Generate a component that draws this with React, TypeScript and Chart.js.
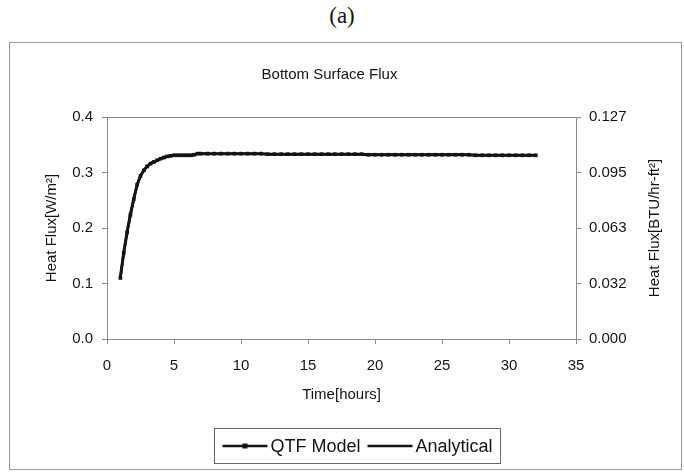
import { useEffect, useRef } from 'react';
import { Chart, registerables } from 'chart.js';

Chart.register(...registerables);

const chartLabel = '(a)';
const chartTitle = 'Bottom Surface Flux';
const xTitle = 'Time[hours]';
const yLeftTitle = 'Heat Flux[W/m\u00B2]';
const yRightTitle = 'Heat Flux[BTU/hr-ft\u00B2]';
const seriesNames = ['QTF Model', 'Analytical'];

const hours = [
  1, 1.25, 1.5, 1.75, 2, 2.25, 2.5, 2.75, 3, 3.25, 3.5, 3.75, 4, 4.25, 4.5, 4.75,
  5, 5.25, 5.5, 5.75, 6, 6.25, 6.5, 6.75,
  7, 7.5, 8, 8.5, 9, 9.5, 10, 10.5, 11, 11.5, 12, 12.5, 13, 13.5, 14, 14.5,
  15, 15.5, 16, 16.5, 17, 17.5, 18, 18.5, 19, 19.5, 20, 20.5, 21, 21.5, 22, 22.5,
  23, 23.5, 24, 24.5, 25, 25.5, 26, 26.5, 27, 27.5, 28, 28.5, 29, 29.5, 30, 30.5,
  31, 31.5, 32,
];

const qtfFlux = [
  0.110, 0.155, 0.192, 0.224, 0.252, 0.278, 0.294, 0.304, 0.311, 0.316, 0.319, 0.322, 0.325, 0.327, 0.329, 0.330,
  0.331, 0.331, 0.331, 0.331, 0.331, 0.331, 0.332, 0.334,
  0.334, 0.334, 0.334, 0.334, 0.334, 0.334, 0.334, 0.334, 0.334, 0.334, 0.333, 0.333, 0.333, 0.333, 0.333, 0.333,
  0.333, 0.333, 0.333, 0.333, 0.333, 0.333, 0.333, 0.333, 0.333, 0.332, 0.332, 0.332, 0.332, 0.332, 0.332, 0.332,
  0.332, 0.332, 0.332, 0.332, 0.332, 0.332, 0.332, 0.332, 0.332, 0.331, 0.331, 0.331, 0.331, 0.331, 0.331, 0.331,
  0.331, 0.331, 0.331,
];

const analyticalFlux = [
  0.112, 0.156, 0.193, 0.225, 0.253, 0.278, 0.294, 0.304, 0.311, 0.316, 0.319, 0.322, 0.325, 0.327, 0.329, 0.330,
  0.331, 0.331, 0.331, 0.331, 0.331, 0.331, 0.332, 0.334,
  0.334, 0.334, 0.334, 0.334, 0.334, 0.334, 0.334, 0.334, 0.334, 0.334, 0.333, 0.333, 0.333, 0.333, 0.333, 0.333,
  0.333, 0.333, 0.333, 0.333, 0.333, 0.333, 0.333, 0.333, 0.333, 0.332, 0.332, 0.332, 0.332, 0.332, 0.332, 0.332,
  0.332, 0.332, 0.332, 0.332, 0.332, 0.332, 0.332, 0.332, 0.332, 0.331, 0.331, 0.331, 0.331, 0.331, 0.331, 0.331,
  0.331, 0.331, 0.331,
];

const leftTickValues = [0, 0.1, 0.2, 0.3, 0.4];
const rightTickLabels = ['0.000', '0.032', '0.063', '0.095', '0.127'];
const xTickValues = [0, 5, 10, 15, 20, 25, 30, 35];

const FONT = '"Liberation Sans", Arial, sans-serif';
const AXIS_COLOR = '#8a8a8a';
const INK = '#141414';

const framePlugin = {
  id: 'frameAndLegend',
  afterDraw(chart: any) {
    const { ctx, chartArea } = chart;
    ctx.save();
    // plot frame
    ctx.strokeStyle = AXIS_COLOR;
    ctx.lineWidth = 1;
    ctx.strokeRect(
      Math.round(chartArea.left) + 0.5,
      Math.round(chartArea.top) + 0.5,
      Math.round(chartArea.right - chartArea.left),
      Math.round(chartArea.bottom - chartArea.top),
    );
    // title
    ctx.fillStyle = INK;
    ctx.font = `15px ${FONT}`;
    ctx.textAlign = 'center';
    ctx.textBaseline = 'middle';
    ctx.fillText(chartTitle, (chartArea.left + chartArea.right) / 2 - 12, 32);

    // right axis title, reading bottom to top
    ctx.save();
    ctx.translate(chartArea.right + 79, (chartArea.top + chartArea.bottom) / 2);
    ctx.rotate(-Math.PI / 2);
    ctx.font = `15px ${FONT}`;
    ctx.fillText(yRightTitle, 0, 0);
    ctx.restore();

    // legend
    ctx.font = `18px ${FONT}`;
    const lineLen = 45;
    const w1 = ctx.measureText(seriesNames[0]).width;
    const w2 = ctx.measureText(seriesNames[1]).width;
    const padX = 8;
    const gapText = 3;
    const gapItem = 7;
    const boxW = padX * 2 + lineLen * 2 + gapText * 2 + w1 + w2 + gapItem;
    const boxH = 35;
    const boxX = Math.round(chart.width / 2 + 12 - boxW / 2) + 0.5;
    const boxY = Math.round(chart.height - 41) + 0.5;
    ctx.strokeStyle = '#666';
    ctx.lineWidth = 1;
    ctx.strokeRect(boxX, boxY, boxW, boxH);
    const cy = boxY + boxH / 2;
    let x = boxX + padX;
    ctx.strokeStyle = INK;
    ctx.lineWidth = 2.5;
    ctx.beginPath();
    ctx.moveTo(x, cy);
    ctx.lineTo(x + lineLen, cy);
    ctx.stroke();
    ctx.fillStyle = INK;
    ctx.fillRect(x + lineLen / 2 - 2.5, cy - 2.5, 5, 5);
    x += lineLen + gapText;
    ctx.textAlign = 'left';
    ctx.fillText(seriesNames[0], x, cy + 1);
    x += w1 + gapItem;
    ctx.beginPath();
    ctx.moveTo(x, cy);
    ctx.lineTo(x + lineLen, cy);
    ctx.stroke();
    x += lineLen + gapText;
    ctx.fillText(seriesNames[1], x, cy + 1);
    ctx.restore();
  },
};

export default function App() {
  const canvasRef = useRef<HTMLCanvasElement | null>(null);

  useEffect(() => {
    const canvas = canvasRef.current;
    if (!canvas) return;
    const tickFont = { family: FONT, size: 15 };
    const chart = new Chart(canvas, {
      type: 'line',
      data: {
        datasets: [
          {
            label: seriesNames[1],
            data: hours.map((h, i) => ({ x: h, y: analyticalFlux[i] })),
            borderColor: INK,
            borderWidth: 3,
            pointRadius: 0,
            tension: 0,
            yAxisID: 'y',
          },
          {
            label: seriesNames[0],
            data: hours.map((h, i) => ({ x: h, y: qtfFlux[i] })),
            borderColor: INK,
            backgroundColor: INK,
            borderWidth: 2.5,
            pointStyle: 'rect',
            pointRadius: 2.6,
            pointBorderWidth: 0,
            tension: 0,
            yAxisID: 'y',
          },
        ],
      },
      options: {
        animation: false,
        responsive: false,
        maintainAspectRatio: false,
        layout: { padding: { left: 29, right: 4, top: 74, bottom: 61 } },
        plugins: {
          legend: { display: false },
          title: { display: false },
          tooltip: { enabled: false },
        },
        scales: {
          x: {
            type: 'linear',
            min: 0,
            max: 35,
            afterBuildTicks: (s: any) => {
              s.ticks = xTickValues.map((v) => ({ value: v }));
            },
            afterFit: (s: any) => {
              s.height = 69;
            },
            ticks: { color: INK, font: tickFont, padding: 13, maxRotation: 0 },
            grid: { display: true, drawOnChartArea: false, drawTicks: true, tickLength: 5, color: AXIS_COLOR },
            border: { display: true, color: AXIS_COLOR },
            title: { display: true, text: xTitle, color: INK, font: { family: FONT, size: 15 }, padding: { top: 4, bottom: 4 } },
          },
          y: {
            position: 'left',
            min: 0,
            max: 0.4,
            afterBuildTicks: (s: any) => {
              s.ticks = leftTickValues.map((v) => ({ value: v }));
            },
            afterFit: (s: any) => {
              s.width = 68;
            },
            ticks: { color: INK, font: tickFont, padding: 9, callback: (v: any) => Number(v).toFixed(1) },
            grid: { display: true, drawOnChartArea: false, drawTicks: true, tickLength: 5, color: AXIS_COLOR },
            border: { display: true, color: AXIS_COLOR },
            title: { display: true, text: yLeftTitle, color: INK, font: { family: FONT, size: 15 }, padding: { top: 4, bottom: 4 } },
          },
          y2: {
            position: 'right',
            min: 0,
            max: 0.4,
            afterBuildTicks: (s: any) => {
              s.ticks = leftTickValues.map((v) => ({ value: v }));
            },
            afterFit: (s: any) => {
              s.width = 101;
            },
            ticks: { color: INK, font: tickFont, padding: 8, callback: (_v: any, i: number) => rightTickLabels[i] },
            grid: { display: true, drawOnChartArea: false, drawTicks: true, tickLength: 5, color: AXIS_COLOR },
            border: { display: true, color: AXIS_COLOR },
            title: { display: false },
          },
        },
      },
      plugins: [framePlugin],
    });
    return () => chart.destroy();
  }, []);

  return (
    <div style={{ position: 'fixed', left: 0, top: 0, width: 684, height: 476, background: '#fff' }}>
      <div
        style={{
          position: 'absolute',
          left: 0,
          top: 0,
          width: 684,
          textAlign: 'center',
          fontFamily: '"Liberation Serif", "Times New Roman", serif',
          fontSize: 23,
          lineHeight: '32px',
          color: INK,
        }}
      >
        {chartLabel}
      </div>
      <div
        style={{
          position: 'absolute',
          left: 9,
          top: 42,
          width: 671,
          height: 426,
          border: '1px solid #9a9a9a',
        }}
      >
        <canvas ref={canvasRef} width={671} height={426} style={{ display: 'block' }} />
      </div>
    </div>
  );
}
